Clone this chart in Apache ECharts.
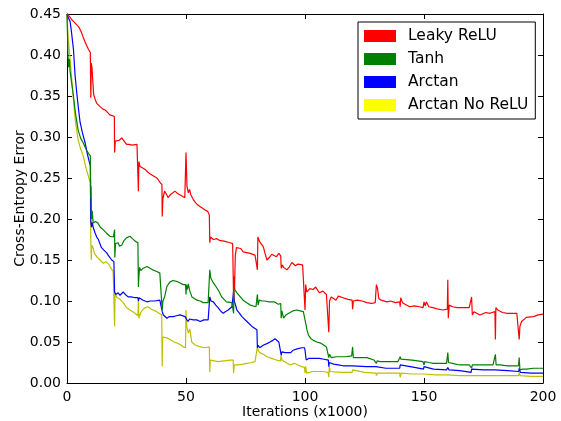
<!DOCTYPE html>
<html>
<head>
<meta charset="utf-8">
<script src="https://cdn.jsdelivr.net/npm/echarts@6/dist/echarts.min.js"></script>
<style>
  html, body { margin: 0; padding: 0; background: #fff; }
</style>
</head>
<body>
<div id="main" style="width: 561px;height:421px;"></div>
<script type="text/javascript">
// 各曲线的数据点 [迭代次数(x1000), 交叉熵误差]
var seriesNames = ['Leaky ReLU', 'Tanh', 'Arctan', 'Arctan No ReLU'];
var xTicks = [0, 50, 100, 150, 200];
var yTicks = [0.00, 0.05, 0.10, 0.15, 0.20, 0.25, 0.30, 0.35, 0.40, 0.45];

var leakyRelu = [
  [0,0.45],[1,0.447],[2,0.443],[3,0.440],[4,0.437],[5,0.434],[6,0.428],[7,0.42],[8,0.413],[9,0.407],[9.8,0.403],
  [10,0.348],[10.2,0.39],[10.5,0.385],[10.8,0.37],[11.2,0.352],[11.8,0.346],[12.5,0.341],[13.2,0.339],[13.9,0.337],
  [14.5,0.335],[15.1,0.334],[16,0.333],[17,0.33],[18,0.327],[19,0.326],[19.9,0.325],
  [20,0.281],[20.3,0.295],[21,0.293],[22,0.296],[23,0.299],[23.5,0.3],[24,0.295],[25,0.291],[26,0.291],[27.3,0.29],[29.4,0.291],[29.8,0.289],
  [30,0.234],[30.2,0.27],[30.7,0.264],[31.3,0.266],[32,0.262],[33,0.26],[34,0.257],[35,0.255],[36,0.253],[37.8,0.25],[39,0.245],[39.9,0.242],
  [40,0.203],[40.3,0.225],[41,0.234],[42,0.229],[42.5,0.226],[43.5,0.23],[44.5,0.232],[45.4,0.234],[46.5,0.231],[48.3,0.228],[49.5,0.226],
  [50,0.281],[50.4,0.24],[51,0.232],[51.5,0.236],[52,0.23],[53,0.224],[54,0.22],[55,0.217],[56,0.215],[57,0.213],[58,0.211],[59.2,0.209],[59.8,0.205],
  [60,0.171],[60.3,0.178],[61.5,0.175],[63,0.176],[64,0.174],[66,0.173],[68.5,0.171],[69.6,0.17],
  [70,0.101],[70.2,0.13],[70.4,0.115],[70.7,0.155],[71.2,0.165],[72,0.163],[73,0.164],[74,0.16],[75.5,0.159],[77,0.158],[79,0.156],[79.8,0.155],
  [80,0.138],[80.2,0.178],[81,0.172],[82.5,0.166],[83.2,0.158],[84,0.15],[85,0.153],[86,0.157],[86.7,0.156],[88,0.154],[89,0.158],[89.8,0.155],
  [90,0.14],[90.5,0.144],[91,0.141],[92.4,0.138],[93.5,0.142],[94.5,0.147],[96,0.143],[97,0.145],[99,0.144],[99.8,0.144],
  [100,0.089],[100.3,0.12],[100.7,0.111],[102,0.115],[103.4,0.114],[104.5,0.117],[106,0.11],[107.5,0.112],[109,0.108],[109.8,0.108],
  [110,0.062],[110.3,0.1],[111,0.105],[112,0.103],[113,0.101],[114,0.106],[116,0.104],[118,0.102],[119.8,0.101],
  [120,0.09],[120.3,0.1],[122,0.101],[124,0.1],[126,0.098],[128,0.097],[129.5,0.098],
  [130,0.12],[130.5,0.115],[131,0.103],[132,0.101],[134.4,0.099],[136,0.1],[138,0.098],[139.8,0.099],
  [140,0.093],[140.2,0.104],[141,0.098],[142,0.096],[144,0.093],[146,0.094],[148,0.093],[149.6,0.092],
  [150,0.099],[150.5,0.094],[151,0.099],[152,0.093],[153.8,0.092],[156,0.09],[158,0.089],[159.8,0.09],
  [160,0.126],[160.2,0.079],[160.6,0.095],[162,0.093],[164,0.092],[166.5,0.092],[169,0.092],[169.8,0.09],
  [170,0.105],[170.3,0.083],[171,0.087],[173.5,0.083],[176,0.086],[177.7,0.085],[179.8,0.087],
  [180,0.053],[180.2,0.092],[181,0.089],[183,0.086],[185,0.085],[187,0.085],[189,0.085],[189.8,0.086],
  [190,0.053],[190.3,0.069],[191,0.075],[193,0.08],[196,0.081],[198,0.083],[200,0.084]
];

var tanh = [
  [0,0.45],[0.4,0.40],[0.7,0.385],[1,0.395],[1.3,0.38],[2,0.365],[2.7,0.35],[3.5,0.33],[4.7,0.308],[5.8,0.298],[6.8,0.293],
  [8,0.285],[9,0.28],[9.8,0.277],[10,0.225],[10.1,0.24],[10.3,0.2],[10.6,0.21],[11,0.195],[12,0.197],[13,0.195],[14,0.19],
  [15.2,0.187],[16.5,0.183],[18,0.179],[19.5,0.178],[19.9,0.176],
  [20,0.187],[20.1,0.153],[20.4,0.17],[21.5,0.171],[22,0.167],[23,0.168],[24,0.174],[25,0.177],[26.5,0.179],[27.5,0.176],[28.6,0.173],[29.8,0.171],
  [30,0.117],[30.2,0.13],[30.5,0.141],[31,0.137],[32,0.14],[33.6,0.142],[34,0.14],[36,0.138],[37.7,0.136],[39,0.134],[39.8,0.132],
  [40,0.089],[40.3,0.1],[41,0.105],[42,0.118],[43.2,0.123],[44.5,0.125],[46,0.124],[47.5,0.122],[48.8,0.12],[49.8,0.12],
  [50,0.108],[50.2,0.12],[50.5,0.114],[51,0.121],[51.5,0.113],[52.5,0.105],[53.5,0.103],[54.6,0.101],[56,0.1],[57.2,0.098],[59.3,0.098],[59.8,0.098],
  [60,0.138],[60.4,0.128],[61.5,0.122],[62,0.12],[62.5,0.118],[63,0.116],[64,0.111],[65,0.105],[67,0.099],[69.3,0.098],[69.8,0.097],
  [70,0.085],[70.2,0.12],[70.5,0.114],[71.4,0.11],[72,0.108],[74,0.101],[75.5,0.098],[77,0.095],[79.4,0.093],[79.8,0.092],
  [80,0.108],[80.3,0.095],[80.8,0.101],[81.9,0.1],[83,0.1],[85,0.099],[87,0.099],[88.8,0.096],[89.8,0.097],
  [90,0.079],[90.3,0.088],[91,0.079],[92,0.083],[93.7,0.086],[95,0.088],[96.5,0.089],[98,0.088],[99.3,0.087],[100,0.087],
  [100.5,0.07],[100.8,0.065],[101.5,0.058],[102.5,0.054],[103.5,0.052],[105,0.05],[106.3,0.049],[108,0.046],[109,0.044],[109.8,0.043],
  [110,0.031],[110.3,0.035],[111,0.031],[113.3,0.032],[115,0.032],[117,0.032],[119.6,0.033],
  [120,0.044],[120.3,0.031],[122,0.031],[124,0.031],[126,0.031],[129,0.028],
  [130,0.024],[130.3,0.027],[131.5,0.026],[135,0.026],[139,0.026],
  [140,0.032],[140.3,0.029],[141,0.029],[145,0.028],[149.6,0.026],
  [150,0.022],[150.3,0.026],[152,0.025],[154,0.024],[157,0.024],[159.5,0.024],
  [160,0.037],[160.3,0.025],[162,0.024],[165,0.022],[169,0.022],
  [170,0.018],[170.3,0.022],[171,0.022],[175,0.022],[179,0.022],
  [180,0.035],[180.3,0.022],[182,0.022],[185,0.021],[189.7,0.021],
  [190,0.031],[190.3,0.016],[191.5,0.017],[193,0.017],[196,0.018],[199,0.018],[200,0.018]
];

var arctan = [
  [0,0.45],[0.6,0.445],[1.3,0.441],[1.8,0.43],[2.7,0.407],[3.4,0.375],[4.1,0.354],[4.8,0.335],[5.5,0.318],[6.5,0.305],[7.6,0.293],
  [8.5,0.28],[9.4,0.269],[9.8,0.265],[10,0.197],[10.3,0.19],[10.6,0.196],[11,0.19],[11.8,0.183],[12.5,0.178],[13.2,0.175],[13.8,0.17],
  [14.5,0.165],[15.5,0.162],[16.6,0.159],[17.5,0.155],[18.8,0.15],[19.7,0.148],
  [20,0.111],[20.5,0.108],[21.5,0.11],[22.3,0.107],[23.6,0.111],[24.5,0.108],[25.7,0.105],[27,0.105],[28.6,0.104],[29.8,0.104],
  [30,0.1],[30.3,0.104],[31,0.102],[32,0.101],[33.6,0.099],[35,0.1],[37,0.1],[39,0.101],[39.8,0.1],
  [40,0.087],[40.5,0.083],[42,0.079],[43,0.081],[44.6,0.081],[46,0.082],[47.5,0.083],[49.6,0.081],
  [50,0.079],[50.8,0.075],[51.5,0.078],[53,0.077],[54.5,0.077],[56,0.075],[57.5,0.077],[59.3,0.077],[59.8,0.077],
  [60,0.105],[60.5,0.1],[61.5,0.099],[62.5,0.095],[63.5,0.092],[64.5,0.088],[65.6,0.085],[66.5,0.087],[67.7,0.089],[69.3,0.093],[69.8,0.094],
  [70,0.112],[70.3,0.1],[71.4,0.089],[72.5,0.085],[73.5,0.081],[75.6,0.075],[77.7,0.069],[79.8,0.065],
  [80,0.043],[80.3,0.046],[81,0.043],[82.4,0.046],[84,0.048],[85.3,0.05],[86.5,0.052],[87.4,0.054],[88.2,0.052],[89,0.05],[89.8,0.05],
  [90,0.034],[90.3,0.038],[91.6,0.037],[94,0.037],[95,0.04],[95.8,0.042],[97,0.042],[98.7,0.043],[99.8,0.043],
  [100,0.04],[100.5,0.028],[101.5,0.03],[103.4,0.03],[106,0.03],[108,0.029],[109.8,0.028],
  [110,0.02],[110.2,0.025],[112,0.023],[114,0.022],[116,0.021],[119.8,0.021],
  [120,0.019],[120.5,0.02],[126,0.02],[129.8,0.02],
  [130,0.022],[130.5,0.019],[134,0.018],[138.6,0.018],[139.8,0.018],
  [140,0.022],[140.5,0.02],[146,0.019],[149.8,0.017],
  [150,0.02],[150.5,0.018],[154,0.017],[159.5,0.016],
  [160,0.019],[160.5,0.016],[165,0.015],[169.8,0.013],
  [170,0.017],[170.5,0.016],[175,0.016],[179.8,0.016],
  [180,0.018],[180.5,0.015],[185,0.015],[189.8,0.014],
  [190,0.018],[190.5,0.013],[195,0.012],[200,0.012]
];

var arctanNoRelu = [
  [0,0.45],[0.5,0.42],[1.3,0.395],[2,0.37],[2.7,0.346],[3.5,0.32],[4.7,0.296],[5.8,0.285],[6.8,0.277],[8,0.262],[9,0.252],[9.8,0.244],
  [10,0.175],[10.2,0.15],[10.4,0.168],[11,0.165],[11.5,0.158],[12.5,0.154],[13.9,0.15],[15.2,0.146],[16.3,0.148],[17.5,0.145],[18.5,0.14],[19.4,0.136],[19.9,0.135],
  [20,0.069],[20.2,0.11],[21,0.104],[22,0.103],[23.6,0.098],[25,0.092],[26.5,0.089],[28.6,0.085],[29.8,0.082],
  [30,0.101],[30.2,0.079],[31,0.086],[32,0.09],[33,0.092],[34,0.093],[35.5,0.09],[37.7,0.087],[39.8,0.083],
  [40,0.02],[40.2,0.056],[41,0.057],[42,0.055],[43.3,0.053],[45,0.05],[46,0.049],[47.5,0.047],[48.9,0.044],[49.8,0.043],
  [50,0.089],[50.3,0.069],[51,0.061],[51.6,0.066],[52.4,0.05],[54,0.046],[56,0.044],[58,0.043],[59.8,0.044],
  [60,0.013],[60.2,0.028],[61,0.026],[63.5,0.026],[66,0.027],[68.5,0.028],[69.8,0.028],
  [70,0.012],[70.3,0.022],[72,0.022],[74,0.023],[75.6,0.024],[77.5,0.025],[79,0.026],[79.8,0.026],
  [80,0.044],[80.3,0.04],[81,0.037],[82.5,0.035],[84,0.032],[86,0.03],[88,0.028],[89.7,0.027],
  [90,0.034],[90.3,0.028],[92,0.025],[93.7,0.022],[95.5,0.024],[97,0.022],[98.5,0.02],[99.8,0.019],
  [100,0.012],[100.3,0.02],[100.7,0.012],[103.4,0.014],[107.6,0.014],[109.7,0.013],
  [110,0.007],[110.2,0.02],[110.6,0.014],[115,0.013],[119.8,0.013],
  [120,0.016],[120.4,0.014],[125,0.013],[129.8,0.012],
  [130,0.009],[130.4,0.012],[135,0.012],[139.8,0.012],
  [140,0.007],[140.4,0.012],[145,0.011],[149.8,0.011],
  [150,0.013],[150.4,0.011],[155,0.01],[159.8,0.01],
  [160,0.012],[160.4,0.009],[165,0.009],[169.8,0.009],
  [170,0.011],[170.4,0.009],[175,0.009],[179.8,0.009],
  [180,0.011],[180.4,0.009],[185,0.009],[189.8,0.009],
  [190,0.013],[190.4,0.009],[195,0.008],[200,0.008]
];

var lineColors = ['#ff0000', '#008000', '#0000ff', '#bfbf00'];
var legendColors = ['#ff0000', '#008000', '#0000ff', '#ffff00'];
var allData = [leakyRelu, tanh, arctan, arctanNoRelu];

var myChart = echarts.init(document.getElementById('main'));

var font = 'DejaVu Sans';
var axisLine = {show: true, onZero: false, lineStyle: {color: '#000', width: 1}};
var tick = {show: true, inside: true, length: 5, lineStyle: {color: '#000'}};

var series = [];
for (var i = 0; i < allData.length; i++) {
    series.push({
        name: seriesNames[i],
        type: 'line',
        data: allData[i],
        showSymbol: false,
        symbol: 'none',
        lineStyle: {color: lineColors[i], width: 1.2},
        itemStyle: {color: legendColors[i]},
        z: 10 - i
    });
}

option = {
    animation: false,
    backgroundColor: '#fff',
    textStyle: {fontFamily: font},
    grid: {left: 67, right: 18, top: 14, bottom: 38, containLabel: false, outerBoundsMode: 'none'},
    legend: {
        orient: 'vertical',
        left: 358,
        top: 22,
        icon: 'rect',
        itemWidth: 32,
        itemHeight: 12,
        itemGap: 7,
        padding: [6, 7, 6, 6],
        borderColor: '#000',
        borderWidth: 1,
        backgroundColor: '#fff',
        data: seriesNames,
        textStyle: {fontFamily: font, fontSize: 15.5, color: '#000', lineHeight: 15, padding: [0, 0, 0, 7]}
    },
    xAxis: [
        {
            type: 'value', min: 0, max: 200, interval: 50, position: 'bottom',
            axisLine: axisLine, axisTick: tick, splitLine: {show: false},
            axisLabel: {fontSize: 14, color: '#000', margin: 7, fontFamily: font,
                customValues: xTicks},
            name: 'Iterations (x1000)', nameLocation: 'middle', nameGap: 22, nameMoveOverlap: false,
            nameTextStyle: {fontSize: 14, color: '#000', fontFamily: font}
        },
        {
            type: 'value', min: 0, max: 200, interval: 50, position: 'top',
            axisLine: axisLine, axisTick: tick, splitLine: {show: false},
            axisLabel: {show: false}
        }
    ],
    yAxis: [
        {
            type: 'value', min: 0, max: 0.45, interval: 0.05, position: 'left',
            axisLine: axisLine, axisTick: tick, splitLine: {show: false},
            axisLabel: {fontSize: 14, color: '#000', margin: 6, fontFamily: font,
                formatter: function (v) { return v.toFixed(2); }},
            name: 'Cross-Entropy Error', nameLocation: 'middle', nameGap: 40, nameMoveOverlap: false,
            nameTextStyle: {fontSize: 14, color: '#000', fontFamily: font}
        },
        {
            type: 'value', min: 0, max: 0.45, interval: 0.05, position: 'right',
            axisLine: axisLine, axisTick: tick, splitLine: {show: false},
            axisLabel: {show: false}
        }
    ],
    series: series
};

myChart.setOption(option);
</script>
</body>
</html>
